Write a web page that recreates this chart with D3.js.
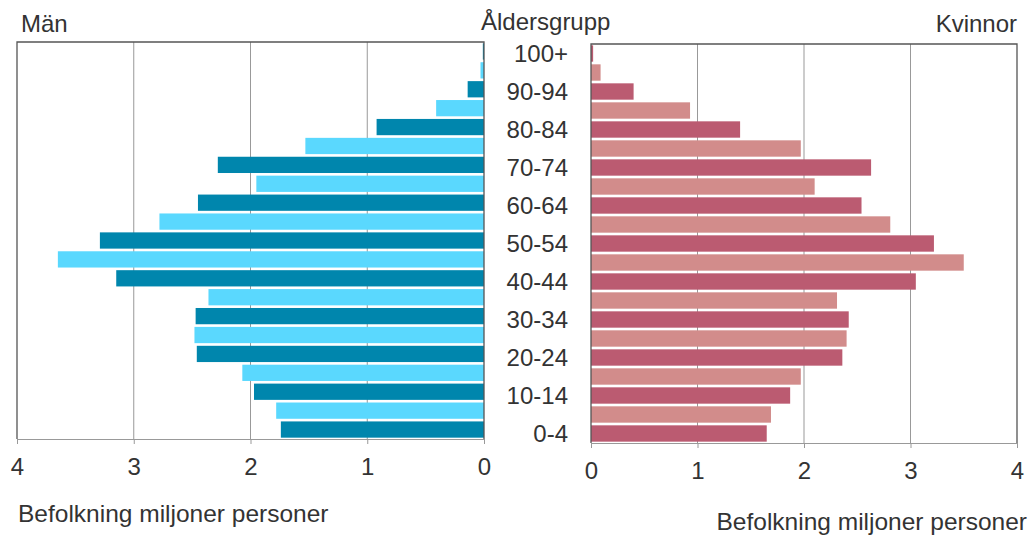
<!DOCTYPE html>
<meta charset="utf-8">
<style>
  body { margin: 0; background: #fff; }
  text { font-family: "Liberation Sans", Arial, sans-serif; fill: #333; }
  .grid line { stroke: #999; stroke-width: 1; }
  .axis path, .axis line { stroke: #999; }
  .axis text { font-size: 24px; fill: #333; }
</style>
<body>
<script src="https://d3js.org/d3.v7.min.js"></script>
<script>
  // age groups, top to bottom
  var ages = ["100+", "95-99", "90-94", "85-89", "80-84", "75-79", "70-74", "65-69",
    "60-64", "55-59", "50-54", "45-49", "40-44", "35-39", "30-34", "25-29",
    "20-24", "15-19", "10-14", "5-9", "0-4"];

  // population, millions
  var men = [0.01, 0.03, 0.14, 0.41, 0.92, 1.53, 2.28, 1.95, 2.45, 2.78, 3.29,
    3.65, 3.15, 2.36, 2.47, 2.48, 2.46, 2.07, 1.97, 1.78, 1.74];
  var women = [0.02, 0.09, 0.40, 0.93, 1.40, 1.97, 2.63, 2.10, 2.54, 2.81, 3.22,
    3.50, 3.05, 2.31, 2.42, 2.40, 2.36, 1.97, 1.87, 1.69, 1.65];

  var ticks = [0, 1, 2, 3, 4];

  var width = 1035, height = 535;

  var svg = d3.select("body").append("svg")
    .attr("width", width)
    .attr("height", height);

  var xL = d3.scaleLinear().domain([0, 4]).range([484, 17]);
  var yL = d3.scaleBand().domain(ages).range([42, 439]).paddingInner(0.14).paddingOuter(0.07);
  var xR = d3.scaleLinear().domain([0, 4]).range([591, 1017]);
  var yR = d3.scaleBand().domain(ages).range([44, 443]).paddingInner(0.14).paddingOuter(0.07);

  // dark for 0-4, 10-14, ... (every other from the bottom)
  function dark(i) { return (ages.length - 1 - i) % 2 === 0; }

  // ---- left panel (Män)
  var gl = svg.append("g");
  gl.append("g").attr("class", "grid")
    .selectAll("line").data(ticks.slice(1, 4)).enter().append("line")
    .attr("x1", function (d) { return xL(d); }).attr("x2", function (d) { return xL(d); })
    .attr("y1", 42).attr("y2", 439);

  gl.selectAll("rect.bar").data(men).enter().append("rect")
    .attr("class", "bar")
    .attr("x", function (d) { return xL(d); })
    .attr("y", function (d, i) { return yL(ages[i]); })
    .attr("width", function (d) { return xL(0) - xL(d); })
    .attr("height", yL.bandwidth())
    .attr("fill", function (d, i) { return dark(i) ? "#0086ad" : "#5ad8fe"; });

  // frame: left, top, right (zero line)
  gl.append("path")
    .attr("d", "M" + xL(4) + ",439V42H" + xL(0) + "V439")
    .attr("fill", "none").attr("stroke", "#555").attr("stroke-width", 1.3);

  gl.append("g").attr("class", "axis")
    .attr("transform", "translate(0,439)")
    .call(d3.axisBottom(xL).tickValues(ticks).tickFormat(d3.format("d"))
      .tickSize(5).tickPadding(14).tickSizeOuter(0));

  // ---- right panel (Kvinnor)
  var gr = svg.append("g");
  gr.append("g").attr("class", "grid")
    .selectAll("line").data(ticks.slice(1, 4)).enter().append("line")
    .attr("x1", function (d) { return xR(d); }).attr("x2", function (d) { return xR(d); })
    .attr("y1", 44).attr("y2", 443);

  gr.selectAll("rect.bar").data(women).enter().append("rect")
    .attr("class", "bar")
    .attr("x", xR(0))
    .attr("y", function (d, i) { return yR(ages[i]); })
    .attr("width", function (d) { return xR(d) - xR(0); })
    .attr("height", yR.bandwidth())
    .attr("fill", function (d, i) { return dark(i) ? "#bb5b71" : "#d28c8b"; });

  gr.append("path")
    .attr("d", "M" + xR(0) + ",443V44H" + xR(4) + "V443")
    .attr("fill", "none").attr("stroke", "#555").attr("stroke-width", 1.3);

  gr.append("g").attr("class", "axis")
    .attr("transform", "translate(0,443)")
    .call(d3.axisBottom(xR).tickValues(ticks).tickFormat(d3.format("d"))
      .tickSize(5).tickPadding(14).tickSizeOuter(0));

  // ---- age labels
  svg.append("g").selectAll("text").data(ages.filter(function (d, i) { return dark(i); }))
    .enter().append("text")
    .attr("x", 568)
    .attr("y", function (d) { return yR(d) + yR.bandwidth() / 2; })
    .attr("dy", "0.35em")
    .attr("text-anchor", "end")
    .style("font-size", "24px")
    .text(function (d) { return d; });

  // ---- titles
  svg.append("text").attr("x", 21).attr("y", 32).style("font-size", "24px").text("Män");
  svg.append("text").attr("x", 481).attr("y", 30).style("font-size", "24px").text("Åldersgrupp");
  svg.append("text").attr("x", 1017).attr("y", 32).attr("text-anchor", "end")
    .style("font-size", "24px").text("Kvinnor");
  svg.append("text").attr("x", 18).attr("y", 522).style("font-size", "24.5px")
    .text("Befolkning miljoner personer");
  svg.append("text").attr("x", 1027).attr("y", 530).attr("text-anchor", "end")
    .style("font-size", "24.5px").text("Befolkning miljoner personer");
</script>
